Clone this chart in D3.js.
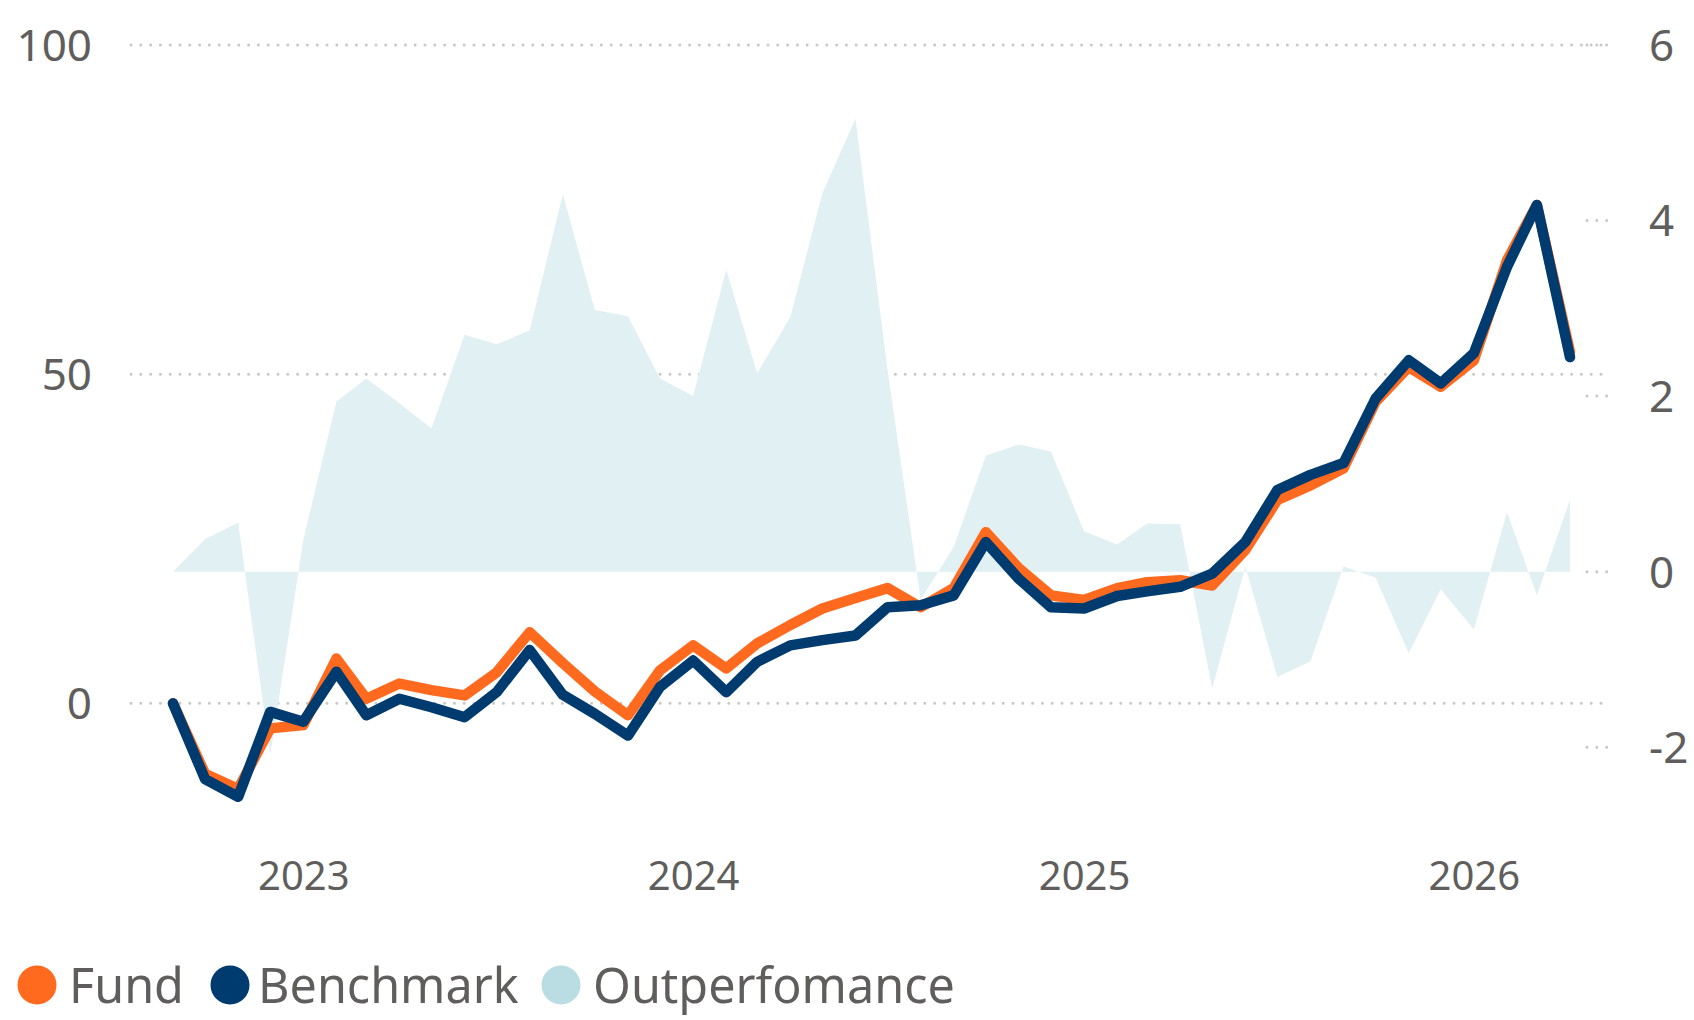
<!DOCTYPE html>
<html>
<head>
<meta charset="utf-8">
<script src="https://cdn.jsdelivr.net/npm/d3@7"></script>
<style>
  html, body { margin: 0; padding: 0; background: #ffffff; }
  svg { display: block; }
  text { font-family: "Segoe UI", "Noto Sans", "Open Sans", sans-serif; fill: #605e5c; }
</style>
</head>
<body>
<div id="chart"></div>
<script>
// ---------- data ----------
const months = [
  "2022-09","2022-10","2022-11","2022-12",
  "2023-01","2023-02","2023-03","2023-04","2023-05","2023-06","2023-07","2023-08","2023-09","2023-10","2023-11","2023-12",
  "2024-01","2024-02","2024-03","2024-04","2024-05","2024-06","2024-07","2024-08","2024-09","2024-10","2024-11","2024-12",
  "2025-01","2025-02","2025-03","2025-04","2025-05","2025-06","2025-07","2025-08","2025-09","2025-10","2025-11","2025-12",
  "2026-01","2026-02","2026-03","2026-04"
];
const fund = [
  0, -10.7, -13.0, -3.8, -3.3, 6.8, 0.7, 3.0, 2.0, 1.2, 4.7, 10.8, 6.1, 1.8, -1.8, 5.0,
  8.8, 5.3, 9.1, 11.9, 14.4, 16.0, 17.5, 14.6, 17.5, 26.0, 20.5, 16.4,
  15.7, 17.5, 18.4, 18.7, 17.9, 23.3, 30.9, 33.1, 35.7, 45.8, 51.1, 48.1,
  52.1, 67.3, 75.7, 53.4
];
const benchmark = [
  0, -11.5, -14.2, -1.3, -2.8, 4.8, -1.8, 0.7, -0.6, -2.1, 1.7, 8.1, 1.3, -1.6, -4.9, 2.5,
  6.5, 1.7, 6.3, 8.8, 9.6, 10.3, 14.6, 14.9, 16.4, 24.5, 18.9, 14.6,
  14.4, 16.3, 17.0, 17.7, 19.7, 24.5, 32.4, 34.7, 36.5, 46.3, 52.1, 48.6,
  53.2, 66.3, 75.7, 52.6
];
const outperformance = [
  0, 0.37, 0.56, -2.09, 0.36, 1.94, 2.20, 1.92, 1.63, 2.70, 2.59, 2.75, 4.30, 2.98, 2.91, 2.20,
  2.00, 3.44, 2.26, 2.90, 4.31, 5.16, 2.30, -0.32, 0.28, 1.32, 1.45, 1.37,
  0.46, 0.31, 0.55, 0.54, -1.33, 0.06, -1.20, -1.02, 0.06, -0.07, -0.93, -0.20,
  -0.66, 0.68, -0.27, 0.82
];
const leftTicks = [0, 50, 100];
const rightTicks = [-2, 0, 2, 4, 6];
const yearTicks = ["2023", "2024", "2025", "2026"];
const seriesNames = ["Fund", "Benchmark", "Outperfomance"];
const seriesColors = ["#ff6a1e", "#003b70", "#b9dde3"];

// ---------- layout ----------
const W = 1694, H = 1020;
const parse = d3.timeParse("%Y-%m");
const dates = months.map(parse);

const x = d3.scaleTime().domain(d3.extent(dates)).range([173, 1570]);
const yL = d3.scaleLinear().domain([-20, 100]).range([835, 45]);
const yR = d3.scaleLinear().domain([-3, 6]).range([835, 45]);

const svg = d3.select("#chart").append("svg").attr("width", W).attr("height", H);

// gridlines (left axis)
svg.append("g").selectAll("line").data(leftTicks).join("line")
  .attr("x1", 131).attr("x2", 1605)
  .attr("y1", d => yL(d)).attr("y2", d => yL(d))
  .attr("stroke", "#c8c8c8").attr("stroke-width", 3)
  .attr("stroke-linecap", "round").attr("stroke-dasharray", "0 9.8");

// right axis short dotted ticks
svg.append("g").selectAll("line").data(rightTicks).join("line")
  .attr("x1", 1587).attr("x2", 1609)
  .attr("y1", d => yR(d)).attr("y2", d => yR(d))
  .attr("stroke", "#c8c8c8").attr("stroke-width", 3)
  .attr("stroke-linecap", "round").attr("stroke-dasharray", "0 9.8");

// area (outperformance, right axis)
const area = d3.area()
  .x((d, i) => x(dates[i]))
  .y0(yR(0))
  .y1(d => yR(d));
svg.append("path").datum(outperformance)
  .attr("d", area)
  .attr("fill", "#e1f0f3");

// lines
const lineL = d3.line().x((d, i) => x(dates[i])).y(d => yL(d));
svg.append("path").datum(fund)
  .attr("d", lineL).attr("fill", "none")
  .attr("stroke", seriesColors[0]).attr("stroke-width", 10.5)
  .attr("stroke-linejoin", "round").attr("stroke-linecap", "round");
svg.append("path").datum(benchmark)
  .attr("d", lineL).attr("fill", "none")
  .attr("stroke", seriesColors[1]).attr("stroke-width", 10.5)
  .attr("stroke-linejoin", "round").attr("stroke-linecap", "round");

// left axis labels
const axL = d3.axisLeft(yL).tickValues(leftTicks).tickFormat(d => String(d)).tickSize(0).tickPadding(0);
const gL = svg.append("g").attr("transform", "translate(92,0)").call(axL);
gL.select(".domain").remove();
gL.selectAll("text").attr("font-size", 44).attr("font-family", null).attr("fill", "#605e5c")
  .attr("dy", "0.35em");

// right axis labels
const axR = d3.axisRight(yR).tickValues(rightTicks).tickFormat(d => String(d)).tickSize(0).tickPadding(0);
const gR = svg.append("g").attr("transform", "translate(1649,0)").call(axR);
gR.select(".domain").remove();
gR.selectAll("text").attr("font-size", 44).attr("font-family", null).attr("fill", "#605e5c")
  .attr("dy", "0.35em");

// x axis labels
const axX = d3.axisBottom(x).tickValues(yearTicks.map(d => d3.timeParse("%Y")(d)))
  .tickFormat(d3.timeFormat("%Y")).tickSize(0).tickPadding(0);
const gX = svg.append("g").attr("transform", "translate(0,862)").call(axX);
gX.select(".domain").remove();
gX.selectAll("text").attr("font-size", 40).attr("font-family", null).attr("fill", "#605e5c")
  .attr("dy", "0.71em");

// legend
const legendX = [37, 230, 561];
const legendTextX = [69, 258, 593];
const leg = svg.append("g");
leg.selectAll("circle").data(seriesNames).join("circle")
  .attr("cx", (d, i) => legendX[i]).attr("cy", 985).attr("r", 19.5)
  .attr("fill", (d, i) => seriesColors[i]);
leg.selectAll("text").data(seriesNames).join("text")
  .attr("x", (d, i) => legendTextX[i]).attr("y", 1003)
  .attr("font-size", 48.5)
  .text(d => d);
</script>
</body>
</html>
